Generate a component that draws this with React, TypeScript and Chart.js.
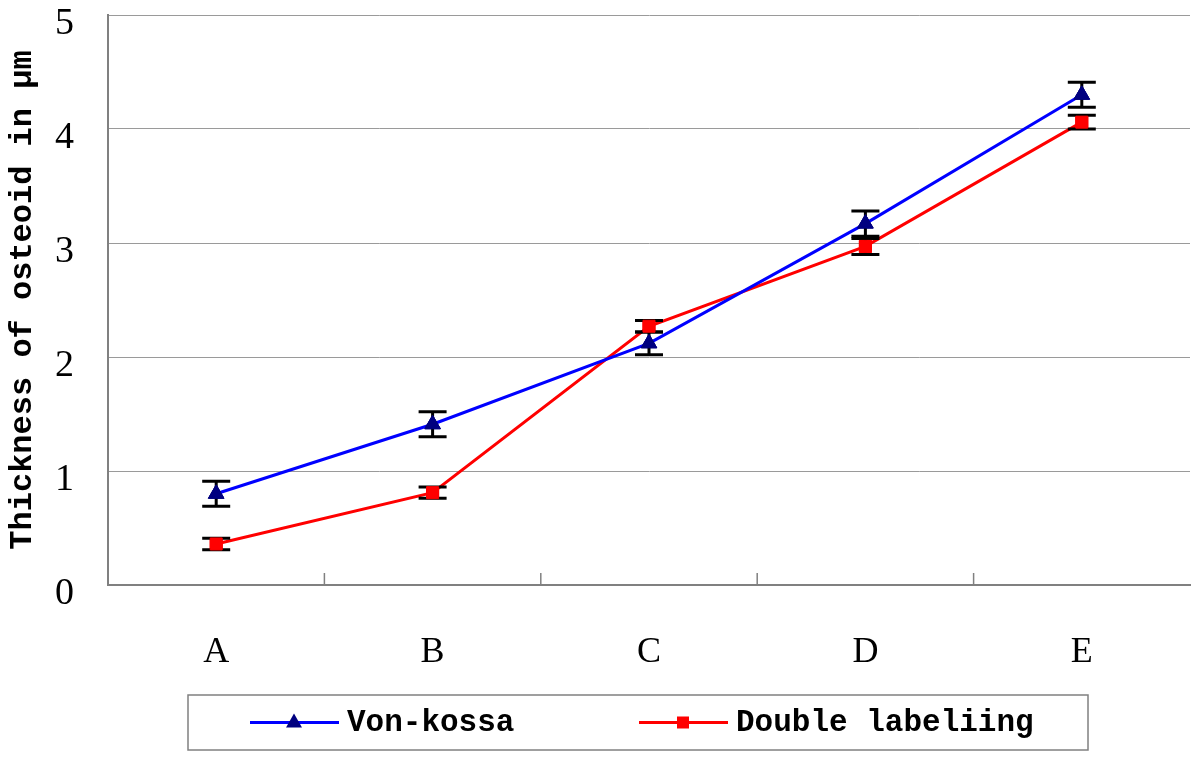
import React, { useEffect, useRef } from 'react';
import { Chart, registerables } from 'chart.js';

Chart.register(...registerables);

const categories = ['A', 'B', 'C', 'D', 'E'];
const vonKossa = [0.8, 1.41, 2.12, 3.17, 4.3];
const vonKossaErr = [0.11, 0.11, 0.1, 0.11, 0.11];
const doubleLabeling = [0.36, 0.81, 2.27, 2.97, 4.06];
const doubleLabelingErr = [0.05, 0.05, 0.05, 0.07, 0.06];
const yTicks = [0, 1, 2, 3, 4, 5];
const seriesNames = ['Von-kossa', 'Double labeliing'];
const yTitle = 'Thickness of osteoid in μm';

const errorArrays = [vonKossaErr, doubleLabelingErr];

const errorBarPlugin = {
  id: 'errorBars',
  afterDatasetsDraw(chart: any) {
    const ctx = chart.ctx;
    const yScale = chart.scales.y;
    chart.data.datasets.forEach((ds: any, di: number) => {
      const meta = chart.getDatasetMeta(di);
      const errs = errorArrays[di];
      meta.data.forEach((pt: any, i: number) => {
        const v = ds.data[i];
        const e = errs[i];
        const x = pt.x;
        const yt = yScale.getPixelForValue(v + e);
        const yb = yScale.getPixelForValue(v - e);
        ctx.save();
        ctx.strokeStyle = '#000000';
        ctx.lineWidth = 3;
        ctx.beginPath();
        ctx.moveTo(x, yt);
        ctx.lineTo(x, yb);
        ctx.moveTo(x - 14, yt);
        ctx.lineTo(x + 14, yt);
        ctx.moveTo(x - 14, yb);
        ctx.lineTo(x + 14, yb);
        ctx.stroke();
        ctx.restore();
      });
    });
    chart.data.datasets.forEach((ds: any, di: number) => {
      const meta = chart.getDatasetMeta(di);
      meta.data.forEach((pt: any) => pt.draw(ctx, chart.chartArea));
    });
  },
};

const innerTicksPlugin = {
  id: 'innerTicks',
  afterDraw(chart: any) {
    const ctx = chart.ctx;
    const xs = chart.scales.x;
    const bottom = chart.chartArea.bottom;
    ctx.save();
    ctx.strokeStyle = '#808080';
    ctx.lineWidth = 1.5;
    for (let i = 0; i < categories.length - 1; i++) {
      const x = (xs.getPixelForTick(i) + xs.getPixelForTick(i + 1)) / 2;
      ctx.beginPath();
      ctx.moveTo(x, bottom - 12);
      ctx.lineTo(x, bottom);
      ctx.stroke();
    }
    ctx.restore();
  },
};

const customLegendPlugin = {
  id: 'customLegend',
  afterDraw(chart: any) {
    const ctx = chart.ctx;
    const left = chart.chartArea.left + 80;
    const right = chart.chartArea.left + 980;
    const top = 695;
    const bottom = 750;
    const cy = (top + bottom) / 2;
    ctx.save();
    ctx.strokeStyle = '#808080';
    ctx.lineWidth = 1.5;
    ctx.strokeRect(left, top, right - left, bottom - top);
    const itemStarts = [left + 62, left + 451];
    chart.data.datasets.forEach((ds: any, di: number) => {
      const x0 = itemStarts[di];
      ctx.strokeStyle = ds.borderColor;
      ctx.lineWidth = 3;
      ctx.beginPath();
      ctx.moveTo(x0, cy);
      ctx.lineTo(x0 + 89, cy);
      ctx.stroke();
      const mx = x0 + 44;
      ctx.fillStyle = ds.pointBackgroundColor;
      if (ds.pointStyle === 'triangle') {
        ctx.beginPath();
        ctx.moveTo(mx, cy - 9);
        ctx.lineTo(mx + 8, cy + 5);
        ctx.lineTo(mx - 8, cy + 5);
        ctx.closePath();
        ctx.fill();
      } else {
        ctx.fillRect(mx - 6, cy - 6, 12, 12);
      }
      ctx.fillStyle = '#000000';
      ctx.font = 'bold 31px "Liberation Mono"';
      ctx.textBaseline = 'middle';
      ctx.textAlign = 'left';
      ctx.fillText(seriesNames[di], x0 + 97, cy + 1);
    });
    ctx.restore();
  },
};

export default function App() {
  const canvasRef = useRef<HTMLCanvasElement | null>(null);

  useEffect(() => {
    if (!canvasRef.current) return;
    const chart = new Chart(canvasRef.current, {
      type: 'line',
      data: {
        labels: categories,
        datasets: [
          {
            label: seriesNames[0],
            data: vonKossa,
            borderColor: '#0000FF',
            borderWidth: 3,
            pointStyle: 'triangle',
            pointRadius: 9,
            pointBackgroundColor: '#000080',
            pointBorderColor: '#000080',
            pointBorderWidth: 1,
            tension: 0,
          },
          {
            label: seriesNames[1],
            data: doubleLabeling,
            borderColor: '#FF0000',
            borderWidth: 3,
            pointStyle: 'rect',
            pointRadius: 8.5,
            pointBackgroundColor: '#FF0000',
            pointBorderColor: '#FF0000',
            pointBorderWidth: 1,
            tension: 0,
          },
        ],
      },
      options: {
        animation: false,
        responsive: false,
        maintainAspectRatio: false,
        layout: { padding: { left: 0, top: 15, right: 8, bottom: 0 } },
        plugins: {
          legend: { display: false },
          tooltip: { enabled: false },
        },
        scales: {
          x: {
            type: 'category',
            offset: true,
            grid: { display: false, drawTicks: false },
            border: { display: true, color: '#808080', width: 2 },
            ticks: {
              color: '#000000',
              padding: 46,
              font: { family: '"Liberation Serif"', size: 36 },
            },
            afterFit(scale: any) {
              scale.height = 178;
              scale.paddingLeft = 0;
              scale.paddingRight = 0;
            },
          },
          y: {
            min: 0,
            max: 5,
            afterBuildTicks(scale: any) {
              scale.ticks = yTicks.map((v) => ({ value: v }));
            },
            grid: { color: '#9a9a9a', lineWidth: 1, drawTicks: false },
            border: { display: true, color: '#808080', width: 2 },
            ticks: {
              color: '#000000',
              padding: 34,
              labelOffset: 9,
              font: { family: '"Liberation Serif"', size: 38 },
            },
            title: {
              display: true,
              text: yTitle,
              color: '#000000',
              padding: { top: 4, bottom: 0 },
              font: { family: '"Liberation Mono"', size: 32, weight: 'bold' },
            },
            afterFit(scale: any) {
              scale.width = 108;
              scale.paddingTop = 0;
              scale.paddingBottom = 0;
            },
          },
        },
      },
      plugins: [errorBarPlugin, innerTicksPlugin, customLegendPlugin],
    });
    return () => chart.destroy();
  }, []);

  return (
    <div style={{ position: 'fixed', left: 0, top: 0, width: 1200, height: 763, background: '#ffffff' }}>
      <canvas ref={canvasRef} width={1200} height={763} style={{ width: 1200, height: 763, display: 'block' }} />
    </div>
  );
}
